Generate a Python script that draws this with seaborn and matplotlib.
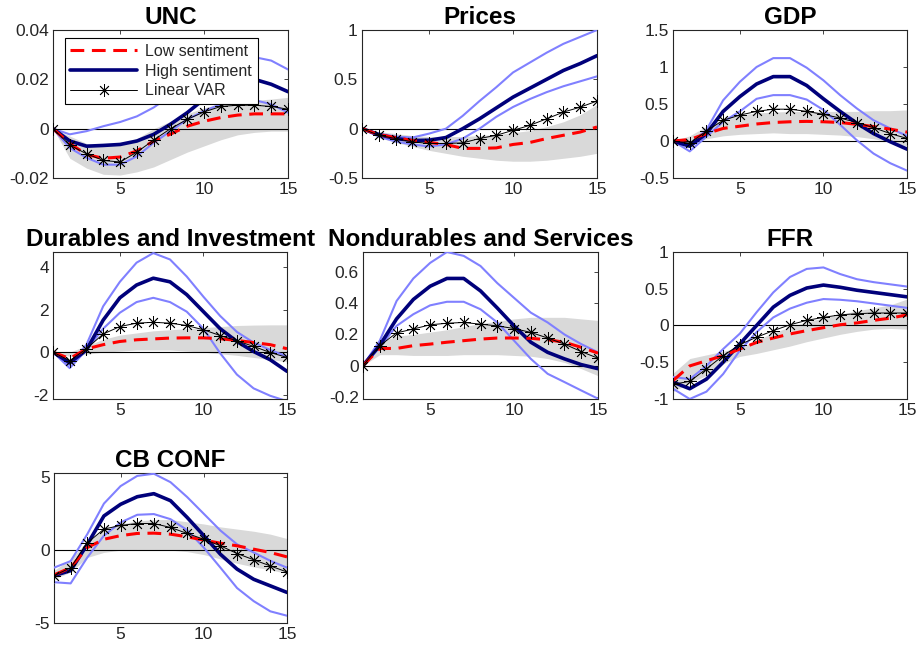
import numpy as np
import pandas as pd
import matplotlib
matplotlib.use("Agg")
import matplotlib.pyplot as plt
from matplotlib.ticker import FuncFormatter
from matplotlib.lines import Line2D
import seaborn as sns

sns.set_style("white")
plt.rcParams['font.family'] = ['Liberation Sans', 'DejaVu Sans']
plt.rcParams['axes.unicode_minus'] = False

horizon = list(range(1, 16))

titles = ["UNC", "Prices", "GDP", "Durables and Investment",
          "Nondurables and Services", "FFR", "CB CONF"]

# ---- UNC ----
unc_low = [0, -0.006, -0.0105, -0.012, -0.0115, -0.009, -0.005, -0.0022, 0.001, 0.003, 0.0045, 0.0055, 0.006, 0.006, 0.006]
unc_high = [0, -0.005, -0.0071, -0.0068, -0.0064, -0.005, -0.0023, 0.0018, 0.0065, 0.012, 0.017, 0.020, 0.020, 0.018, 0.015]
unc_high_up = [0, -0.0023, -0.001, 0.001, 0.0027, 0.005, 0.0086, 0.0133, 0.019, 0.0237, 0.028, 0.0294, 0.029, 0.0276, 0.024]
unc_high_lo = [0, -0.0078, -0.0118, -0.0146, -0.0146, -0.0112, -0.0057, -0.001, 0.0038, 0.0072, 0.0099, 0.0116, 0.0116, 0.0099, 0.0065]
unc_low_up = [0, -0.003, -0.006, -0.007, -0.0065, -0.004, 0.0, 0.003, 0.006, 0.0085, 0.010, 0.011, 0.0115, 0.012, 0.0127]
unc_low_lo = [0, -0.012, -0.016, -0.0185, -0.0188, -0.0175, -0.0155, -0.0125, -0.0095, -0.007, -0.0045, -0.0025, -0.0015, -0.001, -0.001]
unc_linear = [0, -0.0067, -0.0102, -0.0129, -0.0135, -0.0095, -0.0046, 0.0, 0.0038, 0.0068, 0.009, 0.0095, 0.0095, 0.009, 0.0079]

# ---- Prices ----
prices_low = [0, -0.06, -0.09, -0.12, -0.14, -0.16, -0.2, -0.2, -0.195, -0.16, -0.14, -0.1, -0.067, -0.034, 0.017]
prices_high = [0, -0.06, -0.1, -0.12, -0.117, -0.09, 0.0, 0.1, 0.21, 0.32, 0.41, 0.5, 0.59, 0.66, 0.74]
prices_high_up = [0, -0.05, -0.08, -0.09, -0.05, 0.0, 0.13, 0.28, 0.42, 0.57, 0.67, 0.77, 0.86, 0.93, 1.0]
prices_high_lo = [0, -0.08, -0.13, -0.16, -0.18, -0.16, -0.1, 0.0, 0.12, 0.22, 0.3, 0.37, 0.43, 0.48, 0.53]
prices_low_up = [0, -0.03, -0.05, -0.07, -0.08, -0.08, -0.08, -0.07, -0.06, -0.04, -0.02, 0.02, 0.07, 0.14, 0.245]
prices_low_lo = [0, -0.09, -0.14, -0.18, -0.22, -0.25, -0.28, -0.3, -0.32, -0.33, -0.33, -0.32, -0.3, -0.28, -0.25]
prices_linear = [0, -0.067, -0.1, -0.134, -0.15, -0.15, -0.144, -0.1, -0.067, -0.017, 0.034, 0.1, 0.168, 0.218, 0.28]

# ---- GDP ----
gdp_low = [0, 0.02, 0.1, 0.17, 0.2, 0.23, 0.25, 0.26, 0.265, 0.26, 0.25, 0.225, 0.195, 0.16, 0.12]
gdp_high = [0, -0.07, 0.1, 0.4, 0.6, 0.77, 0.87, 0.87, 0.75, 0.57, 0.4, 0.24, 0.1, -0.01, -0.11]
gdp_high_up = [0, -0.04, 0.15, 0.55, 0.8, 1.0, 1.12, 1.12, 0.99, 0.82, 0.62, 0.44, 0.28, 0.17, 0.07]
gdp_high_lo = [0, -0.14, 0.06, 0.26, 0.4, 0.57, 0.62, 0.62, 0.56, 0.42, 0.22, 0.01, -0.17, -0.3, -0.4]
gdp_low_up = [0, 0.07, 0.2, 0.3, 0.35, 0.38, 0.39, 0.4, 0.4, 0.4, 0.4, 0.4, 0.41, 0.41, 0.42]
gdp_low_lo = [0, -0.02, 0.03, 0.07, 0.09, 0.1, 0.11, 0.1, 0.1, 0.09, 0.08, 0.06, 0.03, -0.01, -0.07]
gdp_linear = [0, -0.03, 0.135, 0.28, 0.35, 0.4, 0.43, 0.43, 0.4, 0.36, 0.31, 0.25, 0.18, 0.1, 0.035]

# ---- Durables and Investment ----
dur_low = [0, -0.3, 0.15, 0.35, 0.5, 0.58, 0.62, 0.66, 0.67, 0.67, 0.63, 0.55, 0.45, 0.35, 0.16]
dur_high = [0, -0.5, 0.1, 1.5, 2.55, 3.15, 3.47, 3.3, 2.7, 1.9, 1.1, 0.5, 0.03, -0.36, -0.9]
dur_high_up = [0, -0.6, 0.35, 2.15, 3.3, 4.2, 4.65, 4.35, 3.55, 2.6, 1.7, 0.95, 0.45, 0.1, -0.2]
dur_high_lo = [0, -0.75, 0.1, 1.1, 1.85, 2.35, 2.55, 2.35, 1.9, 1.1, -0.05, -1.05, -1.7, -2.05, -2.3]
dur_low_up = [0, 0.0, 0.3, 0.6, 0.8, 0.9, 1.0, 1.05, 1.1, 1.15, 1.2, 1.25, 1.27, 1.28, 1.28]
dur_low_lo = [0, -0.2, -0.1, 0.0, 0.05, 0.1, 0.1, 0.1, 0.05, 0.0, -0.08, -0.15, -0.25, -0.35, -0.45]
dur_linear = [0, -0.4, 0.16, 0.85, 1.2, 1.36, 1.4, 1.36, 1.25, 1.05, 0.78, 0.53, 0.27, -0.02, -0.25]

# ---- Nondurables and Services ----
nds_low = [0, 0.11, 0.11, 0.128, 0.138, 0.15, 0.16, 0.17, 0.177, 0.177, 0.175, 0.166, 0.15, 0.117, 0.08]
nds_high = [0, 0.13, 0.3, 0.425, 0.51, 0.56, 0.56, 0.48, 0.37, 0.255, 0.15, 0.085, 0.043, 0.006, -0.02]
nds_high_up = [0, 0.16, 0.415, 0.56, 0.66, 0.73, 0.705, 0.64, 0.53, 0.435, 0.34, 0.277, 0.2, 0.138, 0.085]
nds_high_lo = [0, 0.117, 0.255, 0.33, 0.387, 0.41, 0.41, 0.362, 0.277, 0.16, 0.043, -0.053, -0.106, -0.16, -0.213]
nds_low_up = [0, 0.15, 0.19, 0.2, 0.215, 0.23, 0.25, 0.27, 0.285, 0.3, 0.31, 0.31, 0.31, 0.3, 0.29]
nds_low_lo = [0, 0.07, 0.07, 0.065, 0.065, 0.065, 0.07, 0.07, 0.07, 0.065, 0.06, 0.045, 0.02, -0.02, -0.065]
nds_linear = [0, 0.128, 0.21, 0.235, 0.262, 0.272, 0.277, 0.266, 0.255, 0.238, 0.213, 0.177, 0.138, 0.09, 0.047]

# ---- FFR ----
ffr_low = [-0.75, -0.55, -0.48, -0.41, -0.32, -0.23, -0.17, -0.115, -0.07, -0.03, 0.01, 0.035, 0.07, 0.1, 0.145]
ffr_high = [-0.77, -0.86, -0.73, -0.5, -0.25, 0.0, 0.25, 0.41, 0.51, 0.55, 0.52, 0.48, 0.45, 0.42, 0.39]
ffr_high_up = [-0.7, -0.73, -0.55, -0.32, -0.11, 0.18, 0.45, 0.66, 0.77, 0.79, 0.7, 0.63, 0.59, 0.56, 0.53]
ffr_high_lo = [-0.86, -1.0, -0.9, -0.66, -0.34, -0.09, 0.11, 0.23, 0.31, 0.36, 0.35, 0.33, 0.3, 0.27, 0.24]
ffr_low_up = [-0.65, -0.45, -0.4, -0.35, -0.3, -0.2, -0.1, -0.02, 0.05, 0.1, 0.15, 0.2, 0.24, 0.28, 0.36]
ffr_low_lo = [-0.9, -0.78, -0.68, -0.52, -0.42, -0.38, -0.33, -0.28, -0.22, -0.17, -0.12, -0.08, -0.05, -0.04, -0.05]
ffr_linear = [-0.8, -0.76, -0.59, -0.41, -0.26, -0.16, -0.07, 0.01, 0.07, 0.11, 0.145, 0.16, 0.17, 0.17, 0.17]

# ---- CB CONF ----
cb_low = [-1.7, -1.2, 0.18, 0.75, 1.0, 1.15, 1.17, 1.1, 0.92, 0.69, 0.48, 0.3, 0.07, -0.16, -0.46]
cb_high = [-1.75, -1.4, 0.4, 2.35, 3.15, 3.67, 3.88, 3.4, 2.25, 1.0, -0.28, -1.3, -2.0, -2.45, -2.9]
cb_high_up = [-1.2, -0.75, 1.1, 3.2, 4.4, 5.1, 5.25, 4.67, 3.65, 2.5, 1.35, 0.4, -0.16, -0.73, -1.2]
cb_high_lo = [-2.2, -2.28, -0.5, 1.0, 1.9, 2.43, 2.48, 2.13, 1.38, 0.18, -1.2, -2.6, -3.5, -4.2, -4.5]
cb_low_up = [-1.4, -0.6, 0.6, 1.4, 1.8, 2.0, 2.1, 2.1, 1.95, 1.8, 1.6, 1.45, 1.3, 1.1, 0.8]
cb_low_lo = [-2.0, -1.5, -0.5, -0.15, 0.0, 0.05, 0.05, 0.0, -0.1, -0.3, -0.6, -0.9, -1.15, -1.35, -1.6]
cb_linear = [-1.75, -1.2, 0.5, 1.45, 1.7, 1.83, 1.83, 1.56, 1.15, 0.75, 0.3, -0.23, -0.66, -1.08, -1.5]

y_limits = [(-0.02, 0.04), (-0.5, 1.0), (-0.5, 1.5), (-2.2, 4.7),
            (-0.215, 0.73), (-1.0, 1.0), (-5.0, 5.3)]
y_ticks = [[-0.02, 0, 0.02, 0.04], [-0.5, 0, 0.5, 1], [-0.5, 0, 0.5, 1, 1.5],
           [-2, 0, 2, 4], [-0.2, 0, 0.2, 0.4, 0.6], [-1, -0.5, 0, 0.5, 1], [-5, 0, 5]]
x_ticks = [5, 10, 15]

panels = [
    (unc_low, unc_high, unc_high_up, unc_high_lo, unc_low_up, unc_low_lo, unc_linear),
    (prices_low, prices_high, prices_high_up, prices_high_lo, prices_low_up, prices_low_lo, prices_linear),
    (gdp_low, gdp_high, gdp_high_up, gdp_high_lo, gdp_low_up, gdp_low_lo, gdp_linear),
    (dur_low, dur_high, dur_high_up, dur_high_lo, dur_low_up, dur_low_lo, dur_linear),
    (nds_low, nds_high, nds_high_up, nds_high_lo, nds_low_up, nds_low_lo, nds_linear),
    (ffr_low, ffr_high, ffr_high_up, ffr_high_lo, ffr_low_up, ffr_low_lo, ffr_linear),
    (cb_low, cb_high, cb_high_up, cb_high_lo, cb_low_up, cb_low_lo, cb_linear),
]

W, H = 918, 648
positions_px = [
    (53, 30, 288, 178), (362, 30, 597, 178), (673, 30, 907, 178),
    (53, 252, 287, 399), (363, 252, 598, 399), (673, 252, 907, 399),
    (54, 473, 287, 623),
]

RED = "#FF0000"
NAVY = "#00007A"
LBLUE = "#8080FF"
GREY = "#D9D9D9"
AX_COL = "#262626"
ASTERISK = (8, 2, 0)

fig = plt.figure(figsize=(W / 100, H / 100), dpi=100)
fmt = FuncFormatter(lambda v, p: "{:g}".format(round(v, 6)))

for i, (title, series, ylim, yt, pos) in enumerate(zip(titles, panels, y_limits, y_ticks, positions_px)):
    low, high, high_up, high_lo, low_up, low_lo, linear = series
    l, t, r, b = pos
    ax = fig.add_axes([l / W, 1 - b / H, (r - l) / W, (b - t) / H])
    df = pd.DataFrame({"h": horizon, "low": low, "high": high, "high_up": high_up,
                       "high_lo": high_lo, "low_up": low_up, "low_lo": low_lo,
                       "linear": linear})
    ax.fill_between(df["h"], df["low_lo"], df["low_up"], color=GREY, lw=0, zorder=1)
    ax.axhline(0, color="black", lw=0.8, zorder=2)
    sns.lineplot(data=df, x="h", y="high_up", ax=ax, color=LBLUE, lw=1.5, zorder=3)
    sns.lineplot(data=df, x="h", y="high_lo", ax=ax, color=LBLUE, lw=1.5, zorder=3)
    sns.lineplot(data=df, x="h", y="high", ax=ax, color=NAVY, lw=2.6, zorder=4)
    sns.lineplot(data=df, x="h", y="low", ax=ax, color=RED, lw=2.2,
                 linestyle=(0, (4.5, 2.5)), zorder=5)
    sns.lineplot(data=df, x="h", y="linear", ax=ax, color="black", lw=0.7,
                 marker=ASTERISK, markersize=9, markeredgecolor="black",
                 markerfacecolor="none", markeredgewidth=0.6, zorder=6)
    ax.set_xlim(1, 15)
    ax.set_ylim(*ylim)
    ax.set_xticks(x_ticks)
    ax.set_yticks(yt)
    ax.yaxis.set_major_formatter(fmt)
    ax.set_xlabel("")
    ax.set_ylabel("")
    ax.tick_params(direction="in", length=3, width=0.6, colors=AX_COL,
                   labelsize=12.5, top=True, right=True, pad=3)
    for sp in ax.spines.values():
        sp.set_color(AX_COL)
        sp.set_linewidth(0.8)
    ax.set_title(title, fontsize=17.5, fontweight="bold", color="black", pad=4)

    if i == 0:
        handles = [
            Line2D([], [], color=RED, lw=2.2, linestyle=(0, (4.5, 2.5))),
            Line2D([], [], color=NAVY, lw=2.6),
            Line2D([], [], color="black", lw=0.7, marker=ASTERISK, markersize=9,
                   markeredgewidth=0.6, markeredgecolor="black"),
        ]
        leg = ax.legend(handles, ["Low sentiment", "High sentiment", "Linear VAR"],
                        loc="upper left", bbox_to_anchor=(0.05, 0.945),
                        fontsize=11.5, frameon=True, fancybox=False,
                        edgecolor="black", framealpha=1, handlelength=4.2,
                        borderpad=0.35, labelspacing=0.3, handletextpad=0.5,
                        borderaxespad=0)
        leg.get_frame().set_linewidth(0.8)
        leg.set_zorder(10)

fig.savefig("out.png", dpi=100)
